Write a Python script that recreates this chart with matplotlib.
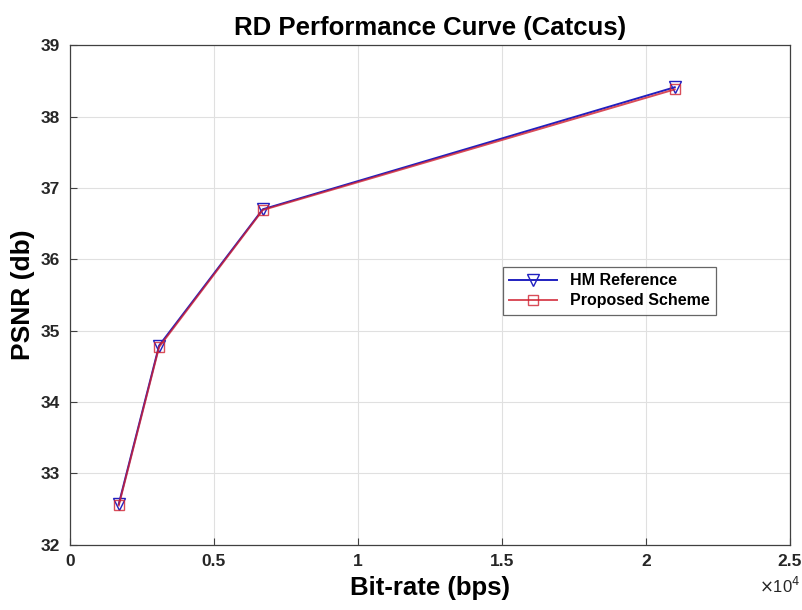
import numpy as np
import matplotlib.pyplot as plt
from matplotlib.ticker import FuncFormatter

plt.rcParams['font.family'] = ['Liberation Sans', 'DejaVu Sans']

# data
bitrate_hm = [1700, 3100, 6700, 21000]
psnr_hm = [32.57, 34.79, 36.70, 38.41]
bitrate_prop = [1700, 3100, 6700, 21000]
psnr_prop = [32.55, 34.77, 36.69, 38.38]

xticks = [0, 5000, 10000, 15000, 20000, 25000]
yticks = [32, 33, 34, 35, 36, 37, 38, 39]

fig = plt.figure(figsize=(8.02, 6.10), dpi=100)
ax = fig.add_axes([0.087, 0.107, 0.898, 0.819])

ax.plot(bitrate_hm, psnr_hm, color='#2020c0', marker='v', markersize=8,
        markerfacecolor='none', linewidth=1.4, label='HM Reference')
ax.plot(bitrate_prop, psnr_prop, color='#d02030', marker='s', markersize=7,
        markerfacecolor='none', linewidth=1.4, label='Proposed Scheme', alpha=0.8)

ax.set_xlim(0, 25000)
ax.set_ylim(32, 39)
ax.set_xticks(xticks)
ax.set_yticks(yticks)
ax.xaxis.set_major_formatter(FuncFormatter(lambda v, p: ('%g' % (v / 1e4))))
ax.grid(True, color='#e0e0e0', linewidth=0.8)
ax.tick_params(direction='in', length=5, color='#404040', labelsize=12.5,
               labelcolor='#262626', pad=7)
for lab in ax.get_xticklabels() + ax.get_yticklabels():
    lab.set_fontweight('bold')
for s in ax.spines.values():
    s.set_color('#404040')
    s.set_linewidth(0.9)

ax.set_title('RD Performance Curve (Catcus)', fontsize=18.5, fontweight='bold', pad=7)
ax.set_xlabel('Bit-rate (bps)', fontsize=18.5, fontweight='bold', labelpad=5)
ax.set_ylabel('PSNR (db)', fontsize=19, fontweight='bold', labelpad=4)
fig.text(0.998, 0.028, r'$\times$10$^4$', fontsize=12, color='#262626', ha='right')

leg = ax.legend(loc='upper left', bbox_to_anchor=(0.59, 0.572),
                prop={'weight': 'bold', 'size': 11.5}, fancybox=False,
                edgecolor='#404040', handlelength=3.0, borderpad=0.4,
                labelspacing=0.3)
leg.get_frame().set_linewidth(0.9)

fig.savefig('out.png', dpi=100)
